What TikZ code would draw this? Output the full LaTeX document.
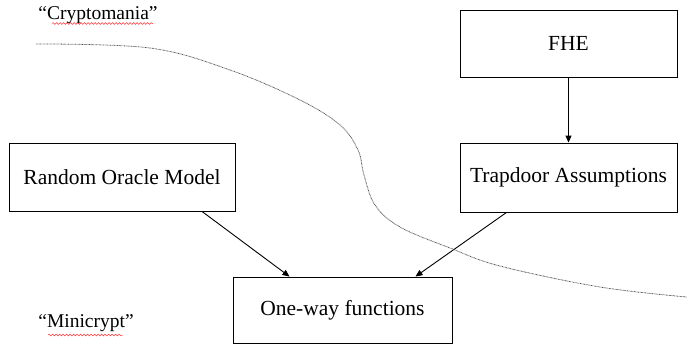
\documentclass[tikz,border=0pt]{standalone}
\usepackage{fontspec}
\setmainfont{Liberation Serif}
\usetikzlibrary{arrows.meta,decorations.pathmorphing,calc}
\begin{document}
\begin{tikzpicture}[x=1pt,y=-1pt,
  box/.style={draw,line width=0.9pt,inner sep=0pt,font=\fontsize{21.5}{24}\selectfont},
  lab/.style={inner sep=0pt,font=\fontsize{19.5}{22}\selectfont},
  arr/.style={line width=0.9pt,-{Triangle[length=7pt,width=6pt]}},
  squig/.style={red!80!white,line width=0.5pt,decorate,decoration={snake,amplitude=0.9pt,segment length=3.5pt}},
  boundary/.style={line width=0.8pt,gray!60!black,dash pattern=on 0.7pt off 0.7pt}]
\useasboundingbox (0,0) rectangle (687,349);
\node[box,minimum width=217pt,minimum height=67pt] (fhe) at (568.5,43.5) {FHE};
\node[box,minimum width=217pt,minimum height=69pt] (trap) at (568.5,177.5) {Trapdoor Assumptions};
\node[box,minimum width=226pt,minimum height=68pt] (rom) at (122,177) {Random Oracle Model};
\node[box,minimum width=219pt,minimum height=66pt] (owf) at (342.5,310) {One-way functions};
\node[lab,anchor=base] (crypto) at (98,19) {“Cryptomania”};
\node[lab,anchor=base] (mini) at (86,327) {“Minicrypt”};
\draw[squig] (52,23.5) -- (153,23.5);
\draw[squig] (48,335) -- (123,335);
\draw[arr] (fhe.south) -- (trap.north);
\draw[arr] ($(trap.south)+(-62,0)$) -- ($(owf.north)+(73,0)$);
\draw[arr] ($(rom.south)+(80,0)$) -- ($(owf.north)+(-53,0)$);
\draw[boundary] plot[smooth,tension=0.6] coordinates {(36,44) (150,48) (230,70) (300,100) (340,125) (358,150) (364,175) (375,205) (400,227) (450,248) (500,266) (600,287) (687,297)};
\end{tikzpicture}
\end{document}
